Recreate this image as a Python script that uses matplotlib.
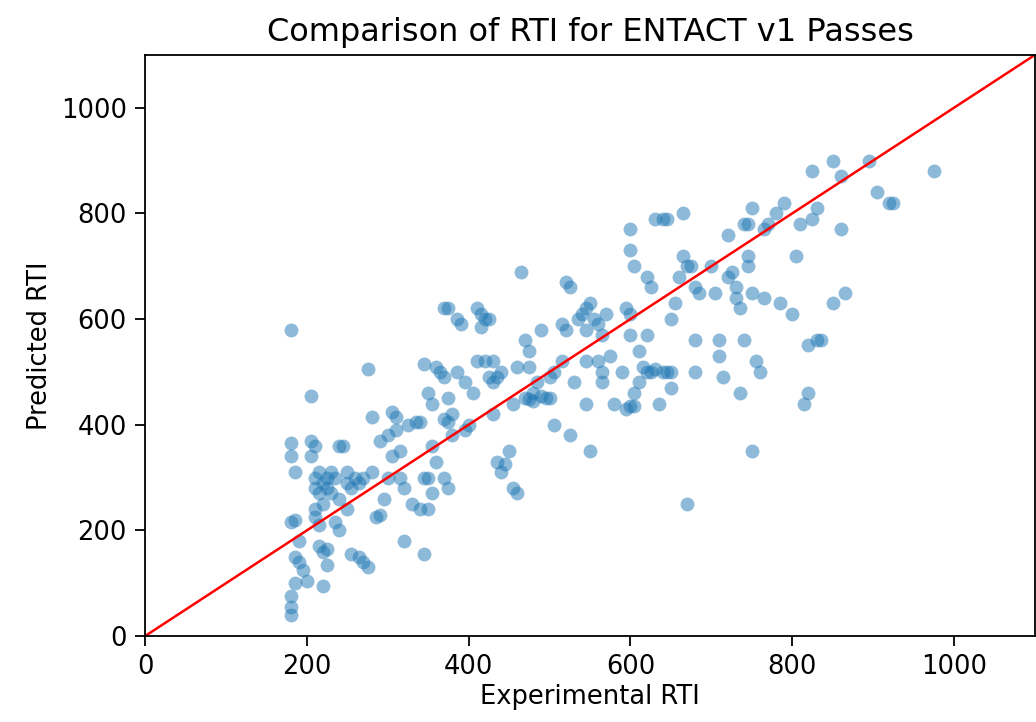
import matplotlib
matplotlib.use("Agg")
from matplotlib import pyplot as plt
import numpy as np

# experimental vs predicted RTI
exp_rti = [180, 180, 180, 185, 180, 185, 190, 185, 190, 185, 180, 180, 180, 195, 200,
           205, 205, 210, 205, 210, 215, 210, 215, 220, 210, 210, 215, 220, 225, 225,
           230, 220, 225, 215, 225, 220, 230, 235, 240, 240, 235, 240, 245, 250, 250,
           255, 260, 250, 255, 265, 270, 275, 265, 270, 275, 280, 285, 290, 280, 290,
           295, 300, 300, 305, 310, 310, 305, 315, 315, 320, 320, 325, 335, 340, 345,
           350, 345, 355, 350, 355, 360, 350, 355, 345, 360, 365, 370, 370, 375, 375,
           370, 375, 380, 380, 370, 375, 385, 390, 395, 400, 395, 405, 410, 415, 420,
           425, 415, 410, 420, 425, 430, 430, 435, 440, 430, 435, 445, 440, 450, 455,
           455, 460, 460, 465, 470, 475, 475, 485, 480, 490, 495, 490, 500, 500, 505,
           505, 515, 515, 520, 520, 525, 525, 535, 530, 540, 545, 545, 545, 550, 545,
           550, 555, 560, 560, 565, 565, 570, 575, 580, 590, 595, 595, 600, 600, 600,
           605, 600, 605, 610, 615, 620, 625, 620, 625, 630, 640, 645, 635, 640, 645,
           650, 650, 650, 655, 660, 665, 665, 670, 670, 675, 680, 680, 680, 685, 700,
           705, 710, 710, 715, 720, 720, 725, 730, 730, 735, 735, 740, 740, 745, 745,
           745, 750, 750, 750, 755, 760, 765, 765, 770, 780, 785, 790, 800, 805, 810,
           815, 820, 820, 825, 825, 830, 830, 835, 850, 850, 860, 860, 865, 895, 905,
           920, 925, 975, 330, 340, 475, 470, 480, 600, 605, 610, 620, 630, 385, 565]
pred_rti = [580, 365, 340, 310, 215, 220, 180, 150, 140, 100, 75, 55, 40, 125, 105,
            455, 370, 360, 340, 300, 310, 280, 270, 250, 240, 225, 210, 290, 300, 280,
            270, 160, 165, 170, 135, 95, 310, 300, 260, 200, 215, 360, 360, 310, 290,
            280, 300, 240, 155, 150, 140, 130, 290, 300, 505, 310, 225, 230, 415, 370,
            260, 380, 300, 425, 415, 390, 340, 350, 300, 280, 180, 400, 405, 405, 515,
            300, 300, 440, 460, 360, 330, 240, 270, 155, 510, 500, 490, 620, 620, 450,
            410, 405, 420, 380, 300, 280, 500, 590, 480, 400, 390, 460, 620, 610, 600,
            600, 585, 520, 520, 490, 480, 520, 490, 500, 420, 330, 325, 310, 350, 440,
            280, 270, 510, 690, 560, 540, 510, 480, 460, 455, 450, 580, 450, 490, 500,
            400, 520, 590, 580, 670, 660, 380, 600, 480, 610, 620, 440, 520, 630, 580,
            350, 600, 590, 520, 500, 480, 610, 530, 440, 500, 620, 430, 610, 770, 730,
            700, 570, 460, 540, 510, 680, 660, 570, 500, 790, 790, 790, 440, 500, 500,
            470, 500, 600, 630, 680, 800, 720, 700, 250, 700, 660, 500, 560, 650, 700,
            650, 560, 530, 490, 760, 680, 690, 660, 640, 620, 460, 560, 780, 780, 720,
            700, 810, 650, 350, 520, 500, 640, 770, 780, 800, 630, 820, 610, 720, 780,
            440, 460, 550, 880, 790, 810, 560, 560, 900, 630, 870, 770, 650, 900, 840,
            820, 820, 880, 250, 240, 448, 450, 445, 435, 435, 480, 500, 505, 600, 570]

line_ends = [0, 1100]

fig = plt.figure(figsize=(10.36, 7.22), dpi=100)
ax = fig.add_axes([0.140, 0.119, 0.859, 0.805])

ax.scatter(exp_rti, pred_rti, s=100, color="#1f77b4", alpha=0.5, linewidths=0)
ax.plot(line_ends, line_ends, color="red", linewidth=1.8)

ax.set_xlim(0, 1100)
ax.set_ylim(0, 1100)
ax.set_xticks([0, 200, 400, 600, 800, 1000])
ax.set_yticks([0, 200, 400, 600, 800, 1000])
ax.tick_params(labelsize=18.5, length=7, width=1.3, pad=6)
for s in ax.spines.values():
  s.set_linewidth(1.3)

ax.set_title("Comparison of RTI for ENTACT v1 Passes", fontsize=23, pad=10)
ax.set_xlabel("Experimental RTI", fontsize=18.5, labelpad=3)
ax.set_ylabel("Predicted RTI", fontsize=18.5, labelpad=6)

fig.savefig("out.png", dpi=100)
